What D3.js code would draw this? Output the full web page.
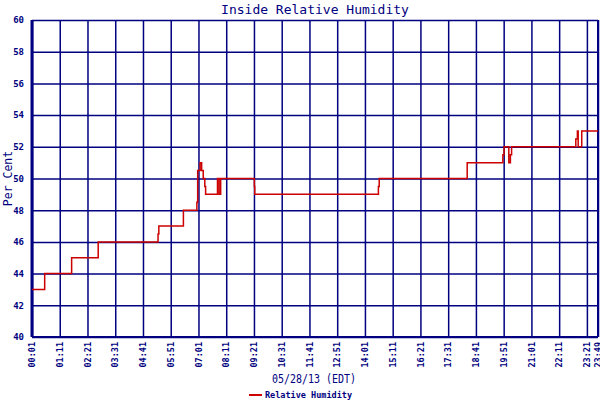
<!DOCTYPE html>
<html><head><meta charset="utf-8">
<script src="https://cdn.jsdelivr.net/npm/d3@7"></script>
<style>
html,body{margin:0;padding:0;background:#fff;}
svg{display:block;}
text{font-family:"DejaVu Sans Mono",monospace;fill:#000080;}
</style></head>
<body><svg id="c" width="600" height="400"></svg>
<script>
const title = "Inside Relative Humidity";
const yTitle = "Per Cent";
const xTitle = "05/28/13 (EDT)";
const seriesName = "Relative Humidity";
const xTickLabels = ["00:01","01:11","02:21","03:31","04:41","05:51","07:01","08:11","09:21","10:31","11:41","12:51","14:01","15:11","16:21","17:31","18:41","19:51","21:01","22:11","23:21","23:49"];
const yTickValues = [40,42,44,46,48,50,52,54,56,58,60];
const times = ["00:01","00:33","01:41","02:48","05:19","05:21","06:23","06:57","06:59","07:05","07:09","07:13","07:17","07:19","07:49","07:53","07:57","09:22","09:23","14:35","14:37","18:19","19:49","19:52","20:04","20:08","20:11","22:53","22:57","22:59","23:08","23:49"];
const values = [43,44,45,46,46.5,47,48,48.5,50.5,51,50.5,50,49.5,49,50,49,50,49.5,49,49.5,50,51,51.5,52,51,51.5,52,52.5,53,52,53,53];

const toMin = s => { const [h,m] = s.split(":").map(Number); return h*60+m; };
const L=32, R=598, T=20, B=337;
const x = d3.scaleLinear().domain([toMin(xTickLabels[0]), toMin(xTickLabels[xTickLabels.length-1])]).range([L,R]);
const y = d3.scaleLinear().domain([40,60]).range([B,T]);
const navy = "#000080", red = "#cc0000";
const svg = d3.select("#c");

// grid + x axis
const gx = svg.append("g").attr("transform",`translate(0,${B})`)
  .call(d3.axisBottom(x).tickValues(xTickLabels.map(toMin)).tickFormat((d,i)=>xTickLabels[i]).tickSize(-(B-T)).tickSizeOuter(0));
gx.select(".domain").remove();
gx.selectAll(".tick line").attr("stroke",navy).attr("stroke-width",1.5);
gx.selectAll(".tick text").attr("transform","rotate(-90)").attr("x",-5).attr("y",0).attr("dy","0.32em")
  .style("text-anchor","end").style("font-size","8.5px").style("font-weight","bold").attr("fill",navy);

const gy = svg.append("g").attr("transform",`translate(${L},0)`)
  .call(d3.axisLeft(y).tickValues(yTickValues).tickSize(-(R-L)).tickSizeOuter(0).tickPadding(8));
gy.select(".domain").remove();
gy.selectAll(".tick line").attr("stroke",navy).attr("stroke-width",1.5);
gy.selectAll(".tick text").style("font-size","9px").style("font-weight","bold").attr("fill",navy);

// frame edges
svg.append("line").attr("x1",L).attr("x2",L).attr("y1",T).attr("y2",B).attr("stroke",navy).attr("stroke-width",3);
svg.append("line").attr("x1",R).attr("x2",R).attr("y1",T).attr("y2",B).attr("stroke",navy).attr("stroke-width",2);
svg.append("line").attr("x1",L).attr("x2",R).attr("y1",B).attr("y2",B).attr("stroke",navy).attr("stroke-width",2);

// series
const data = times.map((t,i)=>({t:toMin(t), v:values[i]}));
svg.append("path").datum(data)
  .attr("d", d3.line().x(d=>x(d.t)).y(d=>y(d.v)).curve(d3.curveStepAfter))
  .attr("fill","none").attr("stroke",red).attr("stroke-width",1.5);

// titles
svg.append("text").attr("x",315).attr("y",14).attr("text-anchor","middle").style("font-size","13px").text(title);
svg.append("text").attr("transform",`translate(12,${(T+B)/2}) rotate(-90)`).attr("text-anchor","middle").style("font-size","11.5px").text(yTitle);
svg.append("text").attr("x",314).attr("y",383).attr("text-anchor","middle").style("font-size","12px")
  .attr("textLength",84).attr("lengthAdjust","spacingAndGlyphs").text(xTitle);

// legend
svg.append("line").attr("x1",249).attr("x2",262).attr("y1",395).attr("y2",395).attr("stroke",red).attr("stroke-width",2);
svg.append("text").attr("x",265).attr("y",398).style("font-size","8.5px").style("font-weight","bold").text(seriesName);
</script></body></html>
